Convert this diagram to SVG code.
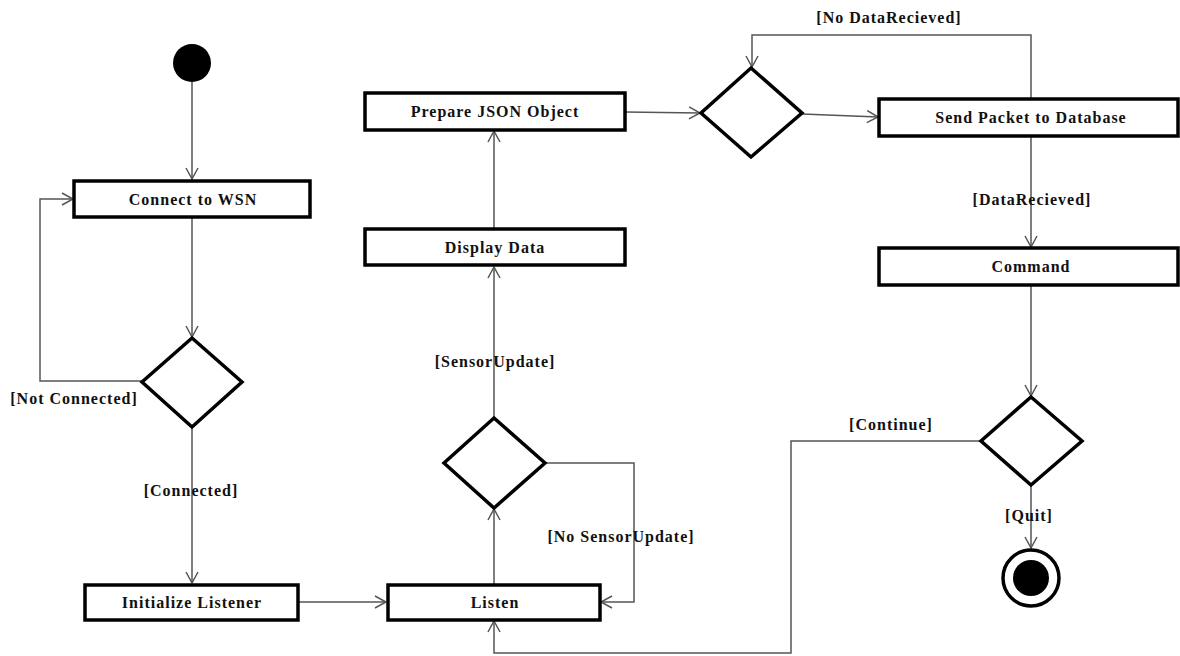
<svg xmlns="http://www.w3.org/2000/svg" width="1180" height="656" viewBox="0 0 1180 656">
<defs>
<marker id="arr" markerWidth="14" markerHeight="14" refX="12" refY="7" orient="auto" markerUnits="userSpaceOnUse">
<path d="M1,1 L12,7 L1,13" fill="none" stroke="#555" stroke-width="1.5"/>
</marker>
<style>
.box{fill:#fff;stroke:#000;stroke-width:3.5}
.dia{fill:#fff;stroke:#000;stroke-width:3.5}
.lbl{font-family:"Liberation Serif","DejaVu Serif",serif;font-weight:bold;font-size:16px;letter-spacing:1px;fill:#111;text-anchor:middle}
.con{fill:none;stroke:#555;stroke-width:1.5}
.conA{fill:none;stroke:#555;stroke-width:1.5;marker-end:url(#arr)}
</style>
</defs>
<rect width="1180" height="656" fill="#fff"/>
<g id="connectors">
<path class="conA" d="M192,82 L192,179"/>
<path class="conA" d="M192,217 L192,337"/>
<path class="conA" d="M142,381 L40,381 L40,199 L73,199"/>
<path class="conA" d="M192,427 L192,583"/>
<path class="conA" d="M298,602 L386,602"/>
<path class="conA" d="M494,584 L494,509"/>
<path class="conA" d="M545,463 L634,463 L634,602 L601,602"/>
<path class="conA" d="M494,418 L494,267"/>
<path class="conA" d="M494,228 L494,131"/>
<path class="conA" d="M625,112 L700,113"/>
<path class="conA" d="M802,114 L878,117"/>
<path class="conA" d="M1031,98 L1031,35 L752,35 L752,67"/>
<path class="conA" d="M1031,136 L1031,247"/>
<path class="conA" d="M1031,285 L1031,396"/>
<path class="conA" d="M980,441 L791,441 L791,653 L494,653 L494,621"/>
<path class="conA" d="M1031,486 L1031,548"/>
<text class="lbl" x="74" y="404">[Not Connected]</text>
<text class="lbl" x="191" y="496">[Connected]</text>
<text class="lbl" x="495" y="367">[SensorUpdate]</text>
<text class="lbl" x="621" y="542">[No SensorUpdate]</text>
<text class="lbl" x="889" y="23">[No DataRecieved]</text>
<text class="lbl" x="1032" y="205">[DataRecieved]</text>
<text class="lbl" x="891" y="430">[Continue]</text>
<text class="lbl" x="1029" y="521">[Quit]</text>
</g>
<g id="start"><circle cx="192" cy="63" r="19" fill="#000"/></g>
<g id="connect"><rect class="box" x="74" y="181" width="236" height="36"/><text class="lbl" x="193" y="205">Connect to WSN</text></g>
<g id="dec1"><polygon class="dia" points="192,338 242,382 192,427 142,382"/></g>
<g id="init"><rect class="box" x="85" y="585" width="213" height="35"/><text class="lbl" x="192" y="608">Initialize Listener</text></g>
<g id="listen"><rect class="box" x="388" y="585" width="212" height="35"/><text class="lbl" x="495" y="608">Listen</text></g>
<g id="dec2"><polygon class="dia" points="494,418 545,463 494,508 444,463"/></g>
<g id="display"><rect class="box" x="365" y="229" width="260" height="36"/><text class="lbl" x="495" y="253">Display Data</text></g>
<g id="prepare"><rect class="box" x="365" y="93" width="260" height="37"/><text class="lbl" x="495" y="117">Prepare JSON Object</text></g>
<g id="dec3"><polygon class="dia" points="751,68 802,113 751,157 701,113"/></g>
<g id="send"><rect class="box" x="879" y="99" width="299" height="37"/><text class="lbl" x="1031" y="123">Send Packet to Database</text></g>
<g id="command"><rect class="box" x="879" y="248" width="299" height="37"/><text class="lbl" x="1031" y="272">Command</text></g>
<g id="dec4"><polygon class="dia" points="1031,397 1082,441 1031,485 981,441"/></g>
<g id="final"><circle cx="1031" cy="578" r="28" fill="#fff" stroke="#000" stroke-width="3.5"/><circle cx="1031" cy="578" r="18" fill="#000"/></g>
</svg>
